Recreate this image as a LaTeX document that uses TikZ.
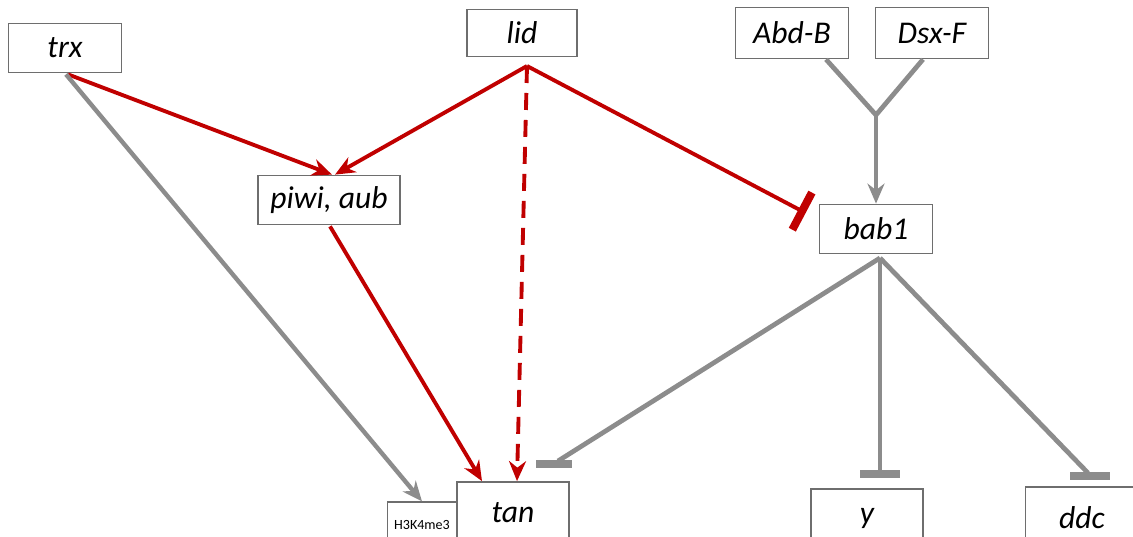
\documentclass[tikz,border=0pt]{standalone}
\usepackage{fontspec}
\setmainfont{Carlito}
\usetikzlibrary{arrows.meta, calc}

\definecolor{actred}{RGB}{192,0,0}
\definecolor{linkgray}{RGB}{140,140,140}
\definecolor{boxgray}{RGB}{110,110,110}

\tikzset{
  gene/.style={draw=boxgray, line width=1pt, fill=white, inner sep=0pt,
    minimum width=2.26cm, minimum height=0.98cm,
    font=\itshape\fontsize{18}{21}\selectfont},
  redact/.style={-{Stealth[length=0.4cm, width=0.34cm]}, draw=actred, line width=2.2pt},
  grayact/.style={-{Stealth[length=0.4cm, width=0.34cm]}, draw=linkgray, line width=2.5pt},
  grayline/.style={draw=linkgray, line width=2.7pt},
  graybar/.style={draw=linkgray, line width=0.16cm}
}

\begin{document}
\begin{tikzpicture}[x=0.02cm, y=-0.02cm, >=Stealth]

\useasboundingbox (0,0) rectangle (1133,537);
\clip (0,0) rectangle (1133,537);

% genes
\node[gene] (trx) at (65,48) {trx};
\node[gene, minimum width=2.2cm, minimum height=0.94cm] (lid) at (522,33) {lid};
\node[gene, minimum height=1.02cm] (abdb) at (792,33) {Abd-B};
\node[gene, minimum height=1.02cm] (dsxf) at (932,33) {Dsx-F};
\node[gene, minimum width=2.84cm] (piwi) at (329,200) {piwi, aub};
\node[gene] (bab1) at (876,229) {bab1};

\node[gene, minimum width=1.38cm, minimum height=0.92cm, font=\fontsize{8}{9}\selectfont,
  line width=0.7pt] (h3k) at (422,525) {H3K4me3};
\node[gene, minimum width=2.24cm, minimum height=1.24cm] (tan) at (513,513) {tan};
\node[gene, minimum width=2.24cm, minimum height=1.16cm] (y) at (867,518) {y};
\node[gene, minimum width=2.26cm, minimum height=1.24cm] (ddc) at (1082,518) {ddc};

% branch points
\coordinate (lidhub) at (527,66);
\coordinate (join) at (876,115);
\coordinate (babhub) at (880,258);

\coordinate (tanbar) at (554,464);
\coordinate (ybar) at (880,474);
\coordinate (ddcbar) at (1090,476);

% red links
\draw[redact] ($(trx.south)+(3,1)$) -- ($(piwi.north)+(3,0)$);
\draw[redact] (lidhub) -- ($(piwi.north)+(6,0)$);
\draw[redact, dash pattern=on 0.34cm off 0.2cm] (lidhub) -- ($(tan.north)+(4,0)$);
\draw[redact] ($(piwi.south)+(1,1)$) -- ($(tan.north)+(-31,0)$);
\draw[draw=actred, line width=2.2pt, -{Bar[width=0.84cm, line width=0.16cm]}]
  (lidhub) -- ($(bab1.west)+(-13,-16)$);

% gray links
\draw[grayact] ($(trx.south)+(1,1)$) -- (h3k.north);
\draw[grayline] ($(abdb.south)+(34,0)$) -- (join) -- ($(dsxf.south)+(-9,0)$);
\draw[grayact] (join) -- (bab1.north);

\draw[grayline] (babhub) -- ($(tanbar)+(4,-3)$);
\draw[grayline] (babhub) -- (ybar);
\draw[grayline] (babhub) -- ($(ddcbar)+(-2,-3)$);

\draw[graybar] ($(tanbar)+(-18,0)$) -- ($(tanbar)+(18,0)$);
\draw[graybar] ($(ybar)+(-20,0)$) -- ($(ybar)+(20,0)$);
\draw[graybar] ($(ddcbar)+(-20,0)$) -- ($(ddcbar)+(20,0)$);

\end{tikzpicture}
\end{document}
